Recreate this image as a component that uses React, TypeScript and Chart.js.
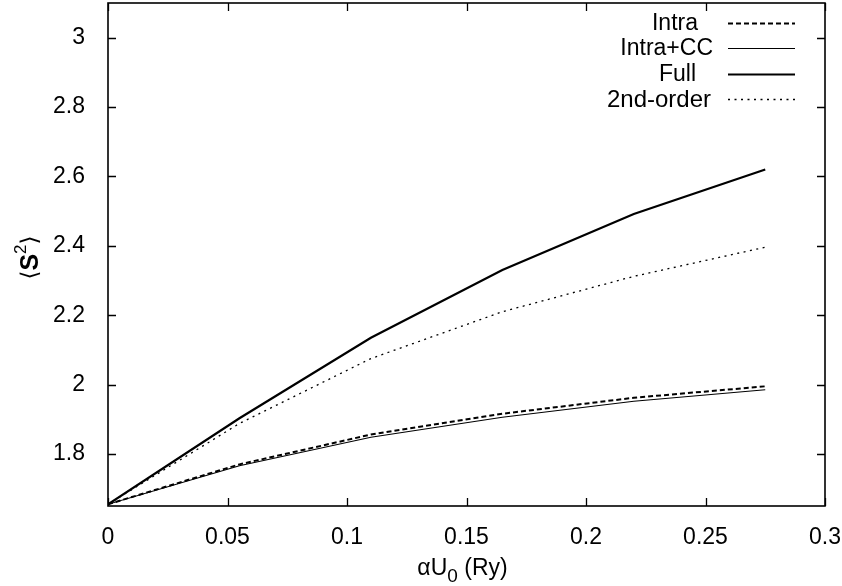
import React, { useEffect, useRef } from 'react';
import { Chart, registerables } from 'chart.js';

Chart.register(...registerables);

const xValues = [0, 0.055, 0.11, 0.165, 0.22, 0.275];
const intra = [1.655, 1.77, 1.856, 1.916, 1.962, 1.995];
const intraCC = [1.655, 1.766, 1.848, 1.906, 1.952, 1.985];
const full = [1.655, 1.903, 2.135, 2.33, 2.492, 2.62];
const secondOrder = [1.655, 1.888, 2.075, 2.21, 2.312, 2.396];

const seriesNames = ['Intra', 'Intra+CC', 'Full', '2nd-order'];

const xTicks = [0, 0.05, 0.1, 0.15, 0.2, 0.25, 0.3];
const xTickLabels = ['0', '0.05', '0.1', '0.15', '0.2', '0.25', '0.3'];
const yTicks = [1.8, 2, 2.2, 2.4, 2.6, 2.8, 3];
const yTickLabels = ['1.8', '2', '2.2', '2.4', '2.6', '2.8', '3'];

const FONT = '"Liberation Sans", Arial, Helvetica, sans-serif';

const framePlugin = {
  id: 'frame',
  afterDraw(chart: any) {
    const ctx = chart.ctx;
    const a = chart.chartArea;
    const xs = chart.scales.x;
    const ys = chart.scales.y;
    ctx.save();
    ctx.strokeStyle = '#000';
    ctx.lineWidth = 1.3;
    const tl = 8;
    ctx.beginPath();
    xTicks.forEach((v) => {
      const px = Math.round(xs.getPixelForValue(v)) + 0.5;
      ctx.moveTo(px, a.bottom);
      ctx.lineTo(px, a.bottom - tl);
      ctx.moveTo(px, a.top);
      ctx.lineTo(px, a.top + tl);
    });
    yTicks.forEach((v) => {
      const py = Math.round(ys.getPixelForValue(v)) + 0.5;
      ctx.moveTo(a.left, py);
      ctx.lineTo(a.left + tl, py);
      ctx.moveTo(a.right, py);
      ctx.lineTo(a.right - tl, py);
    });
    ctx.stroke();
    ctx.lineWidth = 1.6;
    ctx.strokeRect(a.left, a.top, a.right - a.left, a.bottom - a.top);

    // legend
    const rows = [
      { tx: 698, y: 23 },
      { tx: 713, y: 48 },
      { tx: 696, y: 74 },
      { tx: 711, y: 99 },
    ];
    ctx.fillStyle = '#000';
    ctx.textAlign = 'right';
    ctx.textBaseline = 'middle';
    chart.data.datasets.forEach((ds: any, i: number) => {
      const r = rows[i];
      ctx.font = `${i === 3 ? 24 : 23}px ${FONT}`;
      ctx.fillText(ds.label, r.tx, r.y + 1);
      ctx.save();
      ctx.lineWidth = ds.borderWidth;
      ctx.setLineDash(ds.borderDash || []);
      ctx.beginPath();
      ctx.moveTo(728, r.y + 0.5);
      ctx.lineTo(795, r.y + 0.5);
      ctx.stroke();
      ctx.restore();
    });

    // x title: αU0 (Ry)
    const cx = (a.left + a.right) / 2 - 4;
    const base = 575;
    ctx.textAlign = 'left';
    ctx.textBaseline = 'alphabetic';
    const f1 = `23px ${FONT}`;
    const f2 = `19px ${FONT}`;
    ctx.font = f1;
    const w1 = ctx.measureText('αU').width;
    const w3 = ctx.measureText(' (Ry)').width;
    ctx.font = f2;
    const w2 = ctx.measureText('0').width;
    let x0 = cx - (w1 + w2 + w3) / 2;
    ctx.font = f1;
    ctx.fillText('αU', x0, base);
    x0 += w1;
    ctx.font = f2;
    ctx.fillText('0', x0, base + 7);
    x0 += w2;
    ctx.font = f1;
    ctx.fillText(' (Ry)', x0, base);

    // y title: <S^2>
    ctx.save();
    ctx.translate(38, (a.top + a.bottom) / 2 + 3);
    ctx.rotate(-Math.PI / 2);
    const fb = `23px "DejaVu Sans", ${FONT}`;
    const fs = `bold 25px ${FONT}`;
    const fsup = `17px ${FONT}`;
    ctx.font = fb;
    const lw = ctx.measureText('⟨').width;
    const rw = ctx.measureText('⟩').width;
    ctx.font = fs;
    const sw = ctx.measureText('S').width;
    ctx.font = fsup;
    const supw = ctx.measureText('2').width;
    let yx = -(lw + sw + supw + rw) / 2;
    ctx.font = fb;
    ctx.fillText('⟨', yx, -1);
    yx += lw;
    ctx.font = fs;
    ctx.fillText('S', yx, 0);
    yx += sw;
    ctx.font = fsup;
    ctx.fillText('2', yx, -12);
    yx += supw;
    ctx.font = fb;
    ctx.fillText('⟩', yx, -1);
    ctx.restore();

    ctx.restore();
  },
};

function toPoints(ys: number[]) {
  return xValues.map((x, i) => ({ x, y: ys[i] }));
}

function zeroPad(s: any) {
  s.paddingLeft = 0;
  s.paddingRight = 0;
  s.paddingTop = 0;
  s.paddingBottom = 0;
}

export default function App() {
  const ref = useRef<HTMLCanvasElement | null>(null);
  useEffect(() => {
    if (!ref.current) return;
    const chart = new Chart(ref.current, {
      type: 'line',
      data: {
        datasets: [
          {
            label: seriesNames[0],
            data: toPoints(intra),
            borderColor: '#000',
            borderWidth: 2,
            borderDash: [5, 3],
            pointRadius: 0,
            fill: false,
            tension: 0,
          },
          {
            label: seriesNames[1],
            data: toPoints(intraCC),
            borderColor: '#000',
            borderWidth: 1.1,
            pointRadius: 0,
            fill: false,
            tension: 0,
          },
          {
            label: seriesNames[2],
            data: toPoints(full),
            borderColor: '#000',
            borderWidth: 2.2,
            pointRadius: 0,
            fill: false,
            tension: 0,
          },
          {
            label: seriesNames[3],
            data: toPoints(secondOrder),
            borderColor: '#000',
            borderWidth: 1.3,
            borderDash: [2, 4.5],
            pointRadius: 0,
            fill: false,
            tension: 0,
          },
        ],
      },
      options: {
        animation: false,
        responsive: false,
        devicePixelRatio: 1,
        layout: { padding: { top: 3, right: 17, left: 0, bottom: 0 } },
        plugins: {
          legend: { display: false },
          tooltip: { enabled: false },
          title: { display: false },
        },
        scales: {
          x: {
            type: 'linear',
            min: 0,
            max: 0.3,
            grid: { display: false },
            border: { display: false },
            afterBuildTicks: (s: any) => {
              s.ticks = xTicks.map((v) => ({ value: v }));
            },
            afterFit: (s: any) => {
              s.height = 80;
              zeroPad(s);
            },
            ticks: {
              color: '#000',
              font: { family: FONT, size: 23 },
              padding: 10,
              maxRotation: 0,
              autoSkip: false,
              callback: (_v: any, i: number) => xTickLabels[i],
            },
          },
          y: {
            type: 'linear',
            min: 1.65,
            max: 3.1,
            grid: { display: false },
            border: { display: false },
            afterBuildTicks: (s: any) => {
              s.ticks = yTicks.map((v) => ({ value: v }));
            },
            afterFit: (s: any) => {
              s.width = 108;
              zeroPad(s);
            },
            ticks: {
              color: '#000',
              font: { family: FONT, size: 23 },
              padding: 15,
              autoSkip: false,
              callback: (_v: any, i: number) => yTickLabels[i],
            },
          },
        },
      },
      plugins: [framePlugin],
    } as any);
    return () => chart.destroy();
  }, []);
  return (
    <div style={{ position: 'fixed', left: 0, top: 0, width: 842, height: 586, background: '#fff' }}>
      <canvas ref={ref} width={842} height={586} style={{ display: 'block', width: 842, height: 586 }} />
    </div>
  );
}
